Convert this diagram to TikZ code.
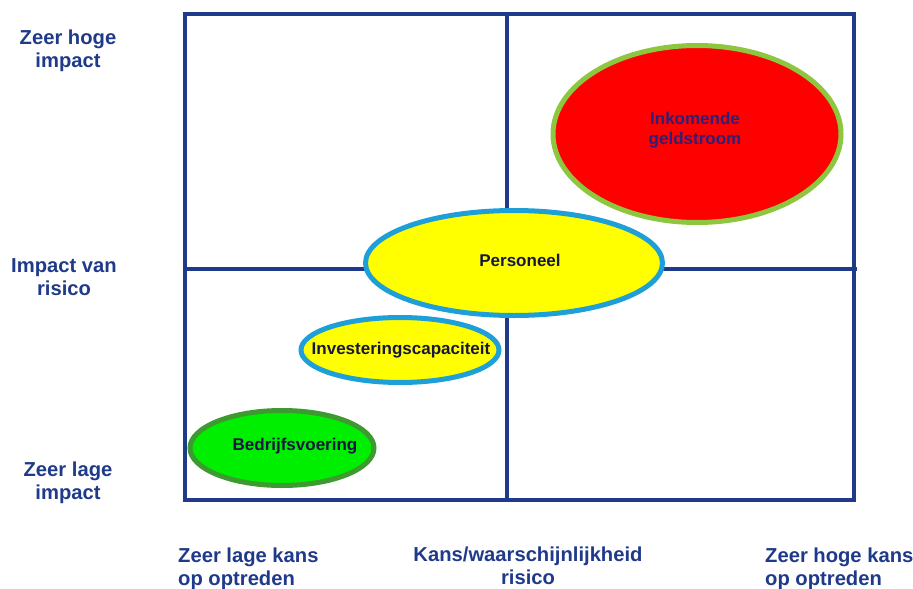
\documentclass[tikz,border=0pt]{standalone}
\usepackage{fontspec}
\setmainfont{Liberation Sans}
\usetikzlibrary{shapes.geometric}
\definecolor{navy}{HTML}{1F3A8A}
\definecolor{txtdark}{HTML}{16163F}
\definecolor{txtpurple}{HTML}{2E1F78}
\definecolor{redfill}{HTML}{FF0000}
\definecolor{limeedge}{HTML}{8DC63F}
\definecolor{yellowfill}{HTML}{FFFF00}
\definecolor{blueedge}{HTML}{1E9FD8}
\definecolor{greenfill}{HTML}{00EE00}
\definecolor{greenedge}{HTML}{3C9A30}
\tikzset{
  axisline/.style={draw=navy, line width=3.1pt},
  axislabel/.style={font=\fontsize{20.2}{23.5}\selectfont\bfseries, text=navy, align=center, inner sep=0pt},
  axislabelL/.style={font=\fontsize{20.2}{23.5}\selectfont\bfseries, text=navy, align=left, inner sep=0pt, anchor=west},
  blob/.style={ellipse, inner sep=0pt, line width=5pt},
  blobtext/.style={font=\fontsize{17}{20.5}\selectfont\bfseries, text=txtdark, align=center, inner sep=0pt}
}
\begin{document}
\begin{tikzpicture}[x=1pt, y=-1pt]
\useasboundingbox (0,0) rectangle (913,589);
% frame and quadrant lines
\coordinate (tl) at (185,14);
\coordinate (br) at (854,500);
\coordinate (vtop) at (507,14);
\coordinate (vbot) at (507,502);
\coordinate (hleft) at (185,269);
\coordinate (hright) at (857,269);
\draw[axisline] (tl) rectangle (br);
\draw[axisline] (vtop) -- (vbot);
\draw[axisline] (hleft) -- (hright);
% ellipses
\node[blob, draw=limeedge, fill=redfill, minimum width=288pt, minimum height=177pt] (ink) at (697,134) {};
\node[blobtext, text=txtpurple] (inkt) at (695,130) {Inkomende\\geldstroom};
\node[blob, draw=blueedge, fill=yellowfill, minimum width=297pt, minimum height=105pt] (pers) at (514,263) {};
\node[blobtext] (perst) at (520,260) {Personeel};
\node[blob, draw=blueedge, fill=yellowfill, minimum width=198pt, minimum height=65pt] (inv) at (400,350) {};
\node[blobtext] (invt) at (401,350) {Investeringscapaciteit};
\node[blob, draw=greenedge, fill=greenfill, minimum width=184pt, minimum height=75pt] (bed) at (282,448) {};
\node[blobtext] (bedt) at (295,446) {Bedrijfsvoering};
% axis labels
\node[axislabel] (zhi) at (68,51) {Zeer hoge\\impact};
\node[axislabel] (imp) at (64,277) {Impact van\\risico};
\node[axislabel] (zli) at (68,483) {Zeer lage\\impact};
\node[axislabelL] (zlk) at (178,569) {Zeer lage kans\\op optreden};
\node[axislabel] (kans) at (528,566) {Kans/waarschijnlijkheid\\risico};
\node[axislabelL] (zhk) at (765,569) {Zeer hoge kans\\op optreden};
\end{tikzpicture}
\end{document}
